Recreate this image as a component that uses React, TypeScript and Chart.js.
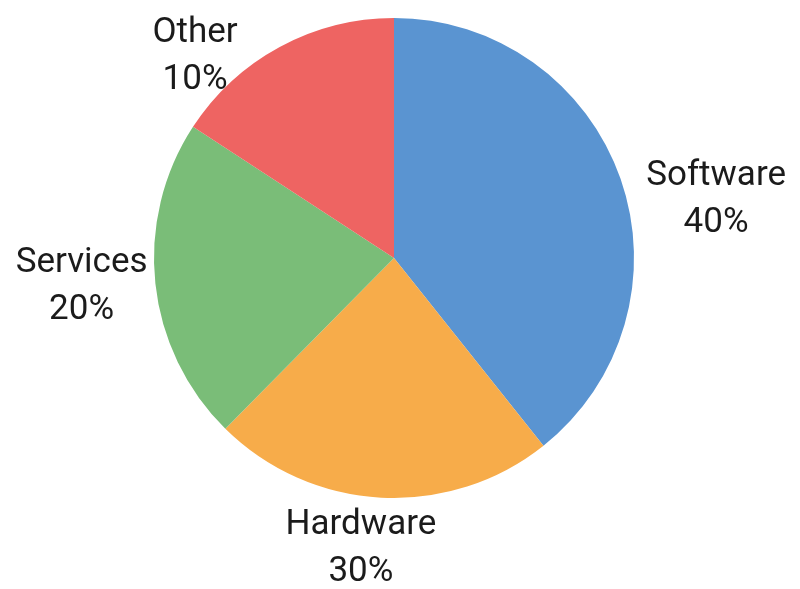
import { Chart, registerables, ArcElement } from "chart.js";
import { useEffect, useRef } from "react";

Chart.register(...registerables);

const categories = ["Software", "Hardware", "Services", "Other"];
// slice sizes as drawn in the reference (share of the circle)
const shares = [39.3, 23.1, 21.8, 15.8];
// percentages printed in the labels
const percentLabels = ["40%", "30%", "20%", "10%"];
const sliceColors = ["#5A94D1", "#F7AC4A", "#7ABD78", "#EE6462"];

// where each label sits relative to its slice: angle nudge (deg) and distance (x radius)
const labelPlacement = [
  { shift: 8.5, k: 1.366 },
  { shift: 3.5, k: 1.206 },
  { shift: 1.45, k: 1.306 },
  { shift: -15.75, k: 1.189 },
];

const outsideLabels = {
  id: "outsideLabels",
  afterDatasetsDraw(chart: Chart) {
    const { ctx } = chart;
    const meta = chart.getDatasetMeta(0);
    ctx.save();
    ctx.font = "35px Roboto";
    ctx.fillStyle = "#1b1b1b";
    ctx.textAlign = "center";
    ctx.textBaseline = "alphabetic";
    meta.data.forEach((el, i) => {
      const arc = el as ArcElement;
      const { x, y, startAngle, endAngle, outerRadius } = arc.getProps(
        ["x", "y", "startAngle", "endAngle", "outerRadius"],
        true
      ) as any;
      const place = labelPlacement[i];
      const mid = (startAngle + endAngle) / 2 + (place.shift * Math.PI) / 180;
      const cx = x + Math.cos(mid) * outerRadius * place.k;
      const cy = y + Math.sin(mid) * outerRadius * place.k;
      ctx.fillText(categories[i], cx, cy - 11.5);
      ctx.fillText(percentLabels[i], cx, cy + 35.5);
    });
    ctx.restore();
  },
};

export default function App() {
  const canvasRef = useRef<HTMLCanvasElement>(null);
  const chartRef = useRef<Chart<"pie"> | null>(null);

  useEffect(() => {
    document.body.style.margin = "0";
    const ctx = canvasRef.current?.getContext("2d");
    if (!ctx) return;

    chartRef.current = new Chart(ctx, {
      type: "pie",
      data: {
        labels: categories,
        datasets: [
          {
            data: shares,
            backgroundColor: sliceColors,
            borderWidth: 0,
          },
        ],
      },
      options: {
        responsive: true,
        maintainAspectRatio: false,
        animation: false,
        layout: { padding: { top: 18, bottom: 91, left: 154, right: 166 } },
        plugins: {
          legend: { display: false },
          tooltip: { enabled: false },
        },
      },
      plugins: [outsideLabels],
    });

    return () => {
      chartRef.current?.destroy();
      chartRef.current = null;
    };
  }, []);

  return (
    <div style={{ position: "relative", width: 800, height: 589, background: "#fff" }}>
      <canvas ref={canvasRef} />
    </div>
  );
}
